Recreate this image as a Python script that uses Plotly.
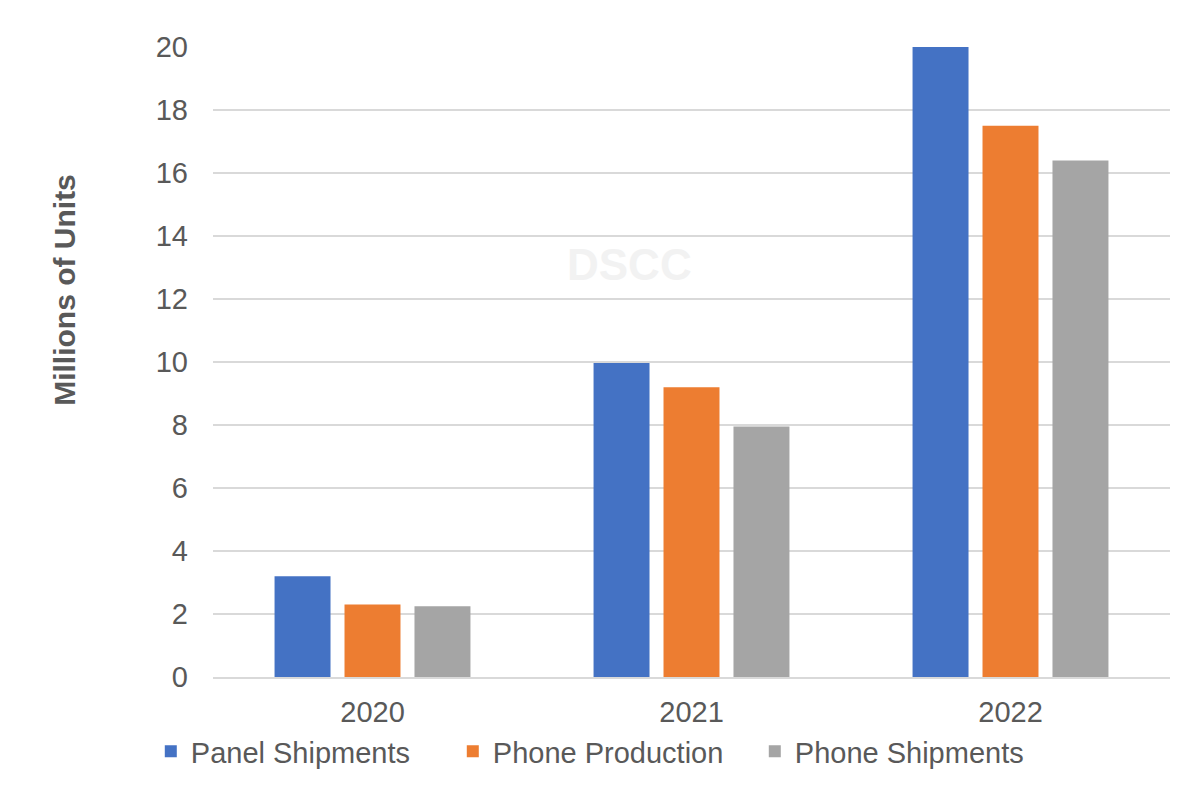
import plotly.graph_objects as go

years = ["2020", "2021", "2022"]
panel_shipments = [3.2, 9.97, 20.0]
phone_production = [2.3, 9.2, 17.5]
phone_shipments = [2.25, 7.95, 16.4]
series_names = ["Panel Shipments", "Phone Production", "Phone Shipments"]
colors = ["#4472C4", "#ED7D31", "#A5A5A5"]

fig = go.Figure()
for name, vals, col in zip(series_names, [panel_shipments, phone_production, phone_shipments], colors):
    fig.add_trace(go.Bar(x=years, y=vals, name=name, marker=dict(color=col, line=dict(width=0))))

font_fam = "Arial, Liberation Sans, sans-serif"
fig.update_layout(
    width=1200, height=800,
    margin=dict(l=205, r=38, t=39, b=131),
    paper_bgcolor="white", plot_bgcolor="white",
    barmode="group", bargap=0.342, bargroupgap=0.2,
    font=dict(family=font_fam, color="#595959", size=29),
    showlegend=True,
    legend=dict(orientation="h", x=-0.065, xanchor="left", y=-0.118, yanchor="middle",
                font=dict(size=29, color="#595959"), traceorder="normal",
                itemwidth=30, entrywidth=257),
    xaxis=dict(showgrid=False, showline=True, linecolor="#d9d9d9", linewidth=1.5,
               ticks="", ticklabelstandoff=8, tickfont=dict(size=29, color="#595959")),
    yaxis=dict(range=[0, 20], dtick=2, showgrid=True, gridcolor="#d9d9d9", gridwidth=1.5,
               zeroline=False, showline=False, ticks="", ticklabelstandoff=24,
               tickfont=dict(size=29, color="#595959")),
    annotations=[
        dict(text="<b>DSCC</b>", x=0.435, y=0.655, xref="paper", yref="paper",
             showarrow=False, font=dict(size=44, color="#f2f2f2", family=font_fam)),
        dict(text="<b>Millions of Units</b>", x=-0.155, y=0.614, xref="paper", yref="paper",
             xanchor="center", yanchor="middle", textangle=-90, showarrow=False,
             font=dict(size=30, color="#595959", family=font_fam)),
    ],
)

fig.write_html("out.html")
